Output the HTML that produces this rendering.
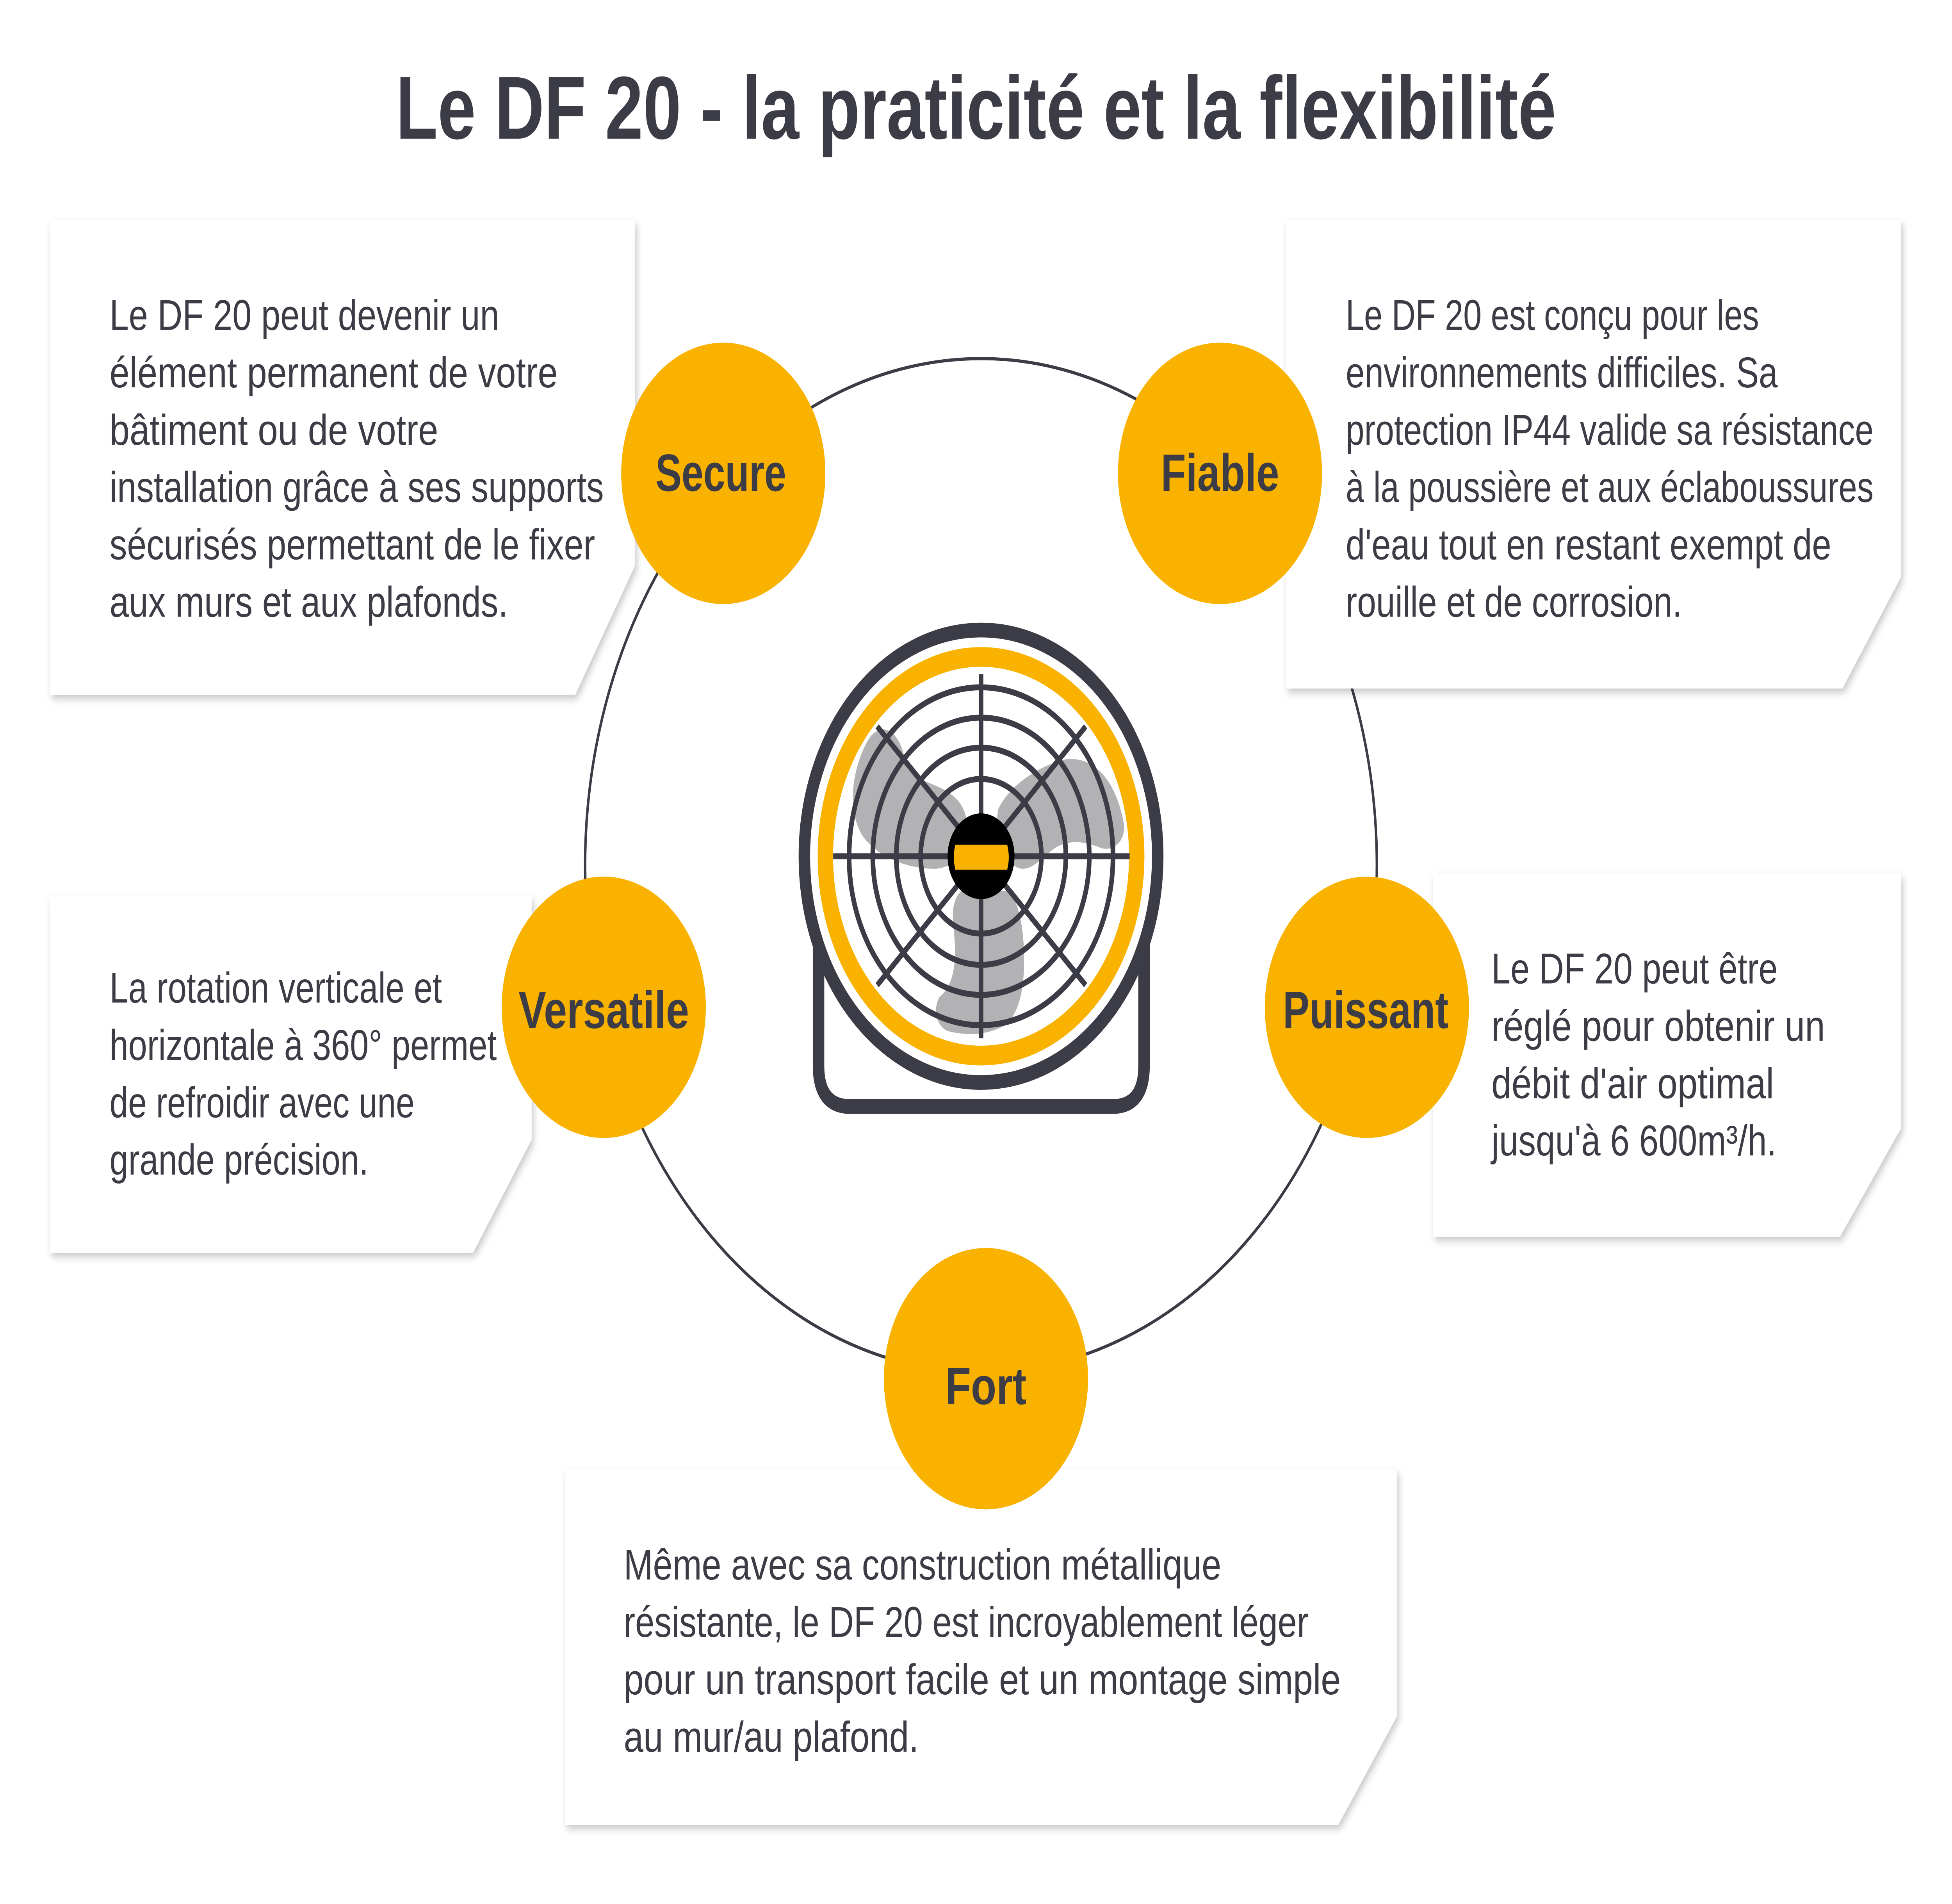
<!DOCTYPE html>
<html><head><meta charset="utf-8">
<style>
html,body{margin:0;padding:0;background:#fff;overflow:hidden;width:100%;height:100%;}
svg{display:block;width:100vw;height:100vh;}
text{font-family:"Liberation Sans",Arial,sans-serif;fill:#3c3c46;}
.b{font-size:27px;}
.l{font-size:33px;font-weight:bold;}
</style></head>
<body>
<svg viewBox="0 0 1568 1194.6" preserveAspectRatio="none" xmlns="http://www.w3.org/2000/svg">
<defs>
<filter id="sh" x="-10%" y="-10%" width="120%" height="130%">
<feDropShadow dx="1.5" dy="2.5" stdDeviation="2.5" flood-color="#000" flood-opacity="0.22"/>
</filter>
</defs>
<rect width="1568" height="1195" fill="#fff"/>
<text x="784" y="87" text-anchor="middle" font-size="56" font-weight="bold" textLength="932" lengthAdjust="spacingAndGlyphs">Le DF 20 - la praticité et la flexibilité</text>

<circle cx="788" cy="543" r="318" fill="none" stroke="#3c3c46" stroke-width="2"/>

<g filter="url(#sh)" fill="#fff">
<polygon points="40,138 510,138 510,355 462,436 40,436"/>
<polygon points="1033,138 1527,138 1527,362 1480,432 1033,432"/>
<polygon points="40,562 427,562 427,715 380,786 40,786"/>
<polygon points="1151,548 1527,548 1527,708 1478,776 1151,776"/>
<polygon points="454,922 1122,922 1122,1077 1075,1145 454,1145"/>
</g>

<g>
<text class="b" x="88" y="207" textLength="313" lengthAdjust="spacingAndGlyphs">Le DF 20 peut devenir un</text>
<text class="b" x="88" y="243" textLength="360" lengthAdjust="spacingAndGlyphs">élément permanent de votre</text>
<text class="b" x="88" y="279" textLength="264" lengthAdjust="spacingAndGlyphs">bâtiment ou de votre</text>
<text class="b" x="88" y="315" textLength="397" lengthAdjust="spacingAndGlyphs">installation grâce à ses supports</text>
<text class="b" x="88" y="351" textLength="390" lengthAdjust="spacingAndGlyphs">sécurisés permettant de le fixer</text>
<text class="b" x="88" y="387" textLength="320" lengthAdjust="spacingAndGlyphs">aux murs et aux plafonds.</text>

<text class="b" x="1081" y="207" textLength="332" lengthAdjust="spacingAndGlyphs">Le DF 20 est conçu pour les</text>
<text class="b" x="1081" y="243" textLength="347" lengthAdjust="spacingAndGlyphs">environnements difficiles. Sa</text>
<text class="b" x="1081" y="279" textLength="424" lengthAdjust="spacingAndGlyphs">protection IP44 valide sa résistance</text>
<text class="b" x="1081" y="315" textLength="424" lengthAdjust="spacingAndGlyphs">à la poussière et aux éclaboussures</text>
<text class="b" x="1081" y="351" textLength="390" lengthAdjust="spacingAndGlyphs">d'eau tout en restant exempt de</text>
<text class="b" x="1081" y="387" textLength="270" lengthAdjust="spacingAndGlyphs">rouille et de corrosion.</text>

<text class="b" x="88" y="629" textLength="267" lengthAdjust="spacingAndGlyphs">La rotation verticale et</text>
<text class="b" x="88" y="665" textLength="311" lengthAdjust="spacingAndGlyphs">horizontale à 360° permet</text>
<text class="b" x="88" y="701" textLength="245" lengthAdjust="spacingAndGlyphs">de refroidir avec une</text>
<text class="b" x="88" y="737" textLength="208" lengthAdjust="spacingAndGlyphs">grande précision.</text>

<text class="b" x="1198" y="617" textLength="230" lengthAdjust="spacingAndGlyphs">Le DF 20 peut être</text>
<text class="b" x="1198" y="653" textLength="268" lengthAdjust="spacingAndGlyphs">réglé pour obtenir un</text>
<text class="b" x="1198" y="689" textLength="227" lengthAdjust="spacingAndGlyphs">débit d'air optimal</text>
<text class="b" x="1198" y="725" textLength="229" lengthAdjust="spacingAndGlyphs">jusqu'à 6 600m³/h.</text>

<text class="b" x="501" y="991" textLength="480" lengthAdjust="spacingAndGlyphs">Même avec sa construction métallique</text>
<text class="b" x="501" y="1027" textLength="550" lengthAdjust="spacingAndGlyphs">résistante, le DF 20 est incroyablement léger</text>
<text class="b" x="501" y="1063" textLength="576" lengthAdjust="spacingAndGlyphs">pour un transport facile et un montage simple</text>
<text class="b" x="501" y="1099" textLength="237" lengthAdjust="spacingAndGlyphs">au mur/au plafond.</text>
</g>

<g fill="#f9b200">
<circle cx="581" cy="297" r="82"/>
<circle cx="980" cy="297" r="82"/>
<circle cx="485" cy="632" r="82"/>
<circle cx="1098" cy="632" r="82"/>
<circle cx="792" cy="865" r="82"/>
</g>
<text class="l" x="579" y="308" text-anchor="middle" textLength="105" lengthAdjust="spacingAndGlyphs">Secure</text>
<text class="l" x="980" y="308" text-anchor="middle" textLength="95" lengthAdjust="spacingAndGlyphs">Fiable</text>
<text class="l" x="485" y="645" text-anchor="middle" textLength="137" lengthAdjust="spacingAndGlyphs">Versatile</text>
<text class="l" x="1097" y="645" text-anchor="middle" textLength="133" lengthAdjust="spacingAndGlyphs">Puissant</text>
<text class="l" x="792" y="881" text-anchor="middle" textLength="65" lengthAdjust="spacingAndGlyphs">Fort</text>

<g transform="translate(636.9,391.97) scale(0.1963)">
<path d="M105,900 V1410 Q105,1540 235,1540 H1307 Q1437,1540 1437,1410 V900" fill="#fff" stroke="#3c3c46" stroke-width="47"/>
<circle cx="770" cy="740" r="723" fill="#fff" stroke="#3c3c46" stroke-width="47"/>
<circle cx="770" cy="740" r="637" fill="none" stroke="#f9b200" stroke-width="63"/>
<g fill="#b2b2b4">
<path d="M460,440 C440,330 350,300 300,380 C240,470 220,600 290,680 C360,750 480,780 580,780 C660,780 720,720 710,620 C690,540 600,520 540,500 C480,470 470,450 460,440 Z"/>
<path d="M840,590 C880,520 1000,450 1120,430 C1250,420 1330,520 1355,640 C1360,700 1300,730 1250,710 C1180,690 1130,690 1080,710 C1020,740 990,780 940,780 C880,780 820,680 840,590 Z"/>
<path d="M690,850 C650,880 650,930 660,990 C670,1080 660,1150 600,1190 C570,1230 590,1290 640,1300 C720,1315 800,1310 870,1280 C940,1230 950,1130 945,1030 C940,950 920,880 880,850 Z"/>
</g>
<g fill="none" stroke="#3c3c46" stroke-width="19">
<circle cx="770" cy="740" r="540"/>
<circle cx="770" cy="740" r="443"/>
<circle cx="770" cy="740" r="347"/>
<circle cx="770" cy="740" r="247"/>
<line x1="165" y1="740" x2="1378" y2="740"/>
<line x1="770" y1="158" x2="770" y2="1322"/>
<line x1="345" y1="325" x2="1198" y2="1152"/>
<line x1="1198" y1="325" x2="345" y2="1152"/>
</g>
<circle cx="770" cy="740" r="137" fill="#000"/>
<path d="M665,703 H877 Q890,743 877,783 H665 Q652,743 665,703 Z" fill="#f9b200"/>
</g>
</svg>
</body></html>
